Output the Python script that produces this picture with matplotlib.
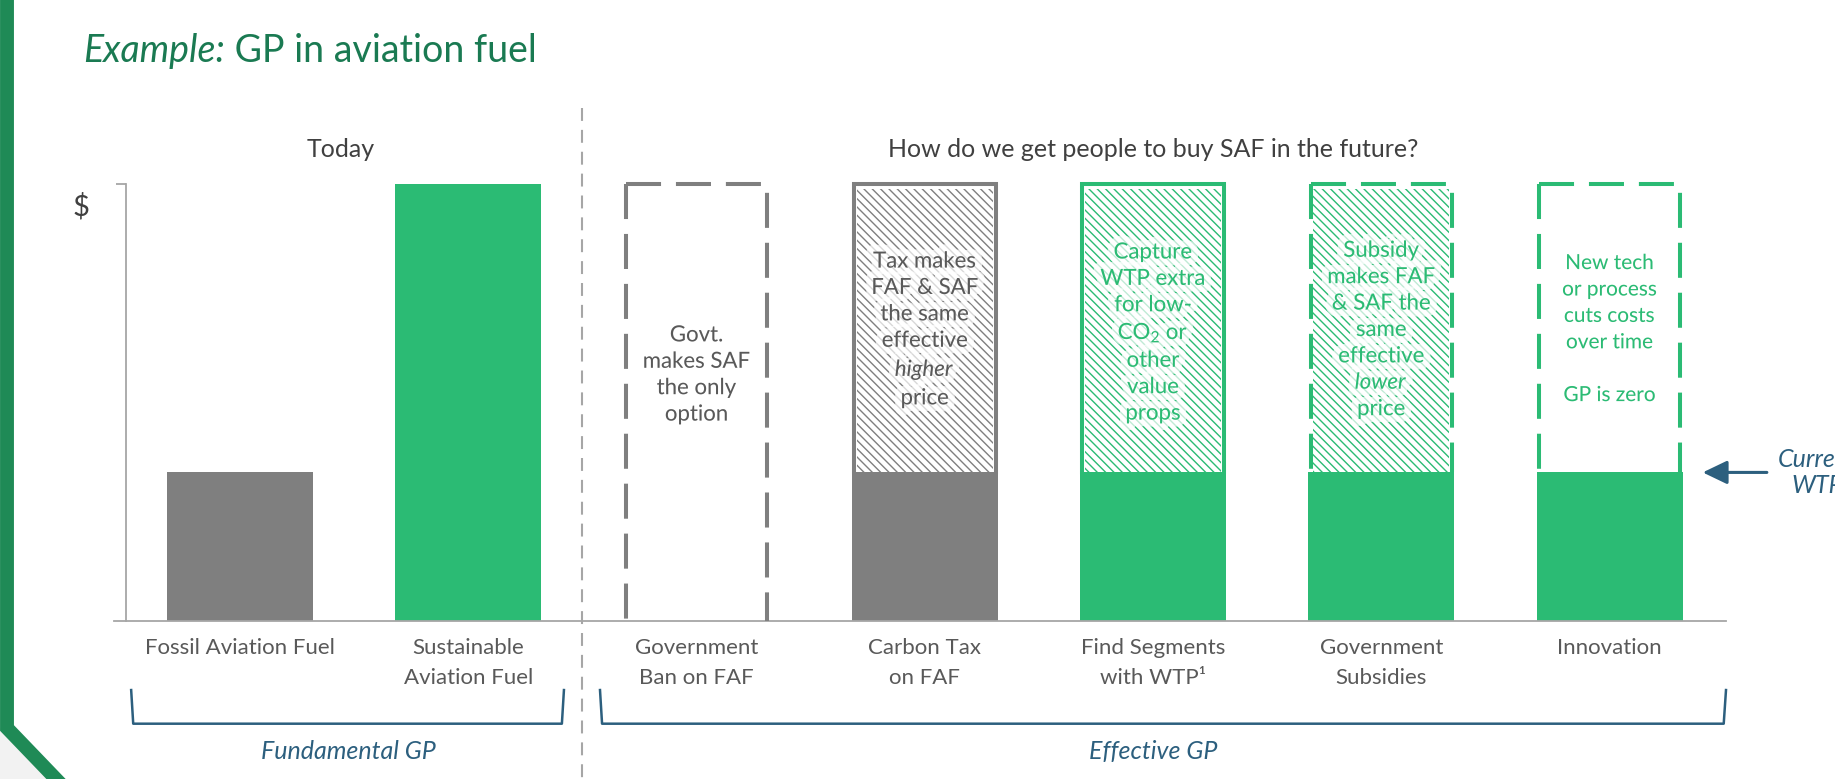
import numpy as np
import matplotlib
matplotlib.use('Agg')
import matplotlib.pyplot as plt
from matplotlib import patheffects as pe
from matplotlib.patches import Polygon
from matplotlib.lines import Line2D

plt.rcParams['font.family'] = ['Lato', 'DejaVu Sans']
plt.rcParams['mathtext.fontset'] = 'custom'
plt.rcParams['mathtext.rm'] = 'Lato'
plt.rcParams['mathtext.it'] = 'Lato:italic'
plt.rcParams['hatch.linewidth'] = 1.0

# data
categories = ['Fossil Aviation Fuel', 'Sustainable\nAviation Fuel', 'Government\nBan on FAF',
              'Carbon Tax\non FAF', 'Find Segments\nwith WTP\u00b9', 'Government\nSubsidies', 'Innovation']
current_wtp = 0.34
solid_height = [0.34, 1.0, 0.0, 0.34, 0.34, 0.34, 0.34]
frame_top = [0, 0, 1.0, 1.0, 1.0, 1.0, 1.0]
frame_style = ['', '', 'dash', 'solid', 'solid', 'dash', 'dash']
hatched = [False, False, False, True, True, True, False]
notes = ['', '',
         'Govt.\nmakes SAF\nthe only\noption',
         'Tax makes\nFAF & SAF\nthe same\neffective\n$\\mathit{higher}$\nprice',
         'Capture\nWTP extra\nfor low-\nCO$_2$ or\nother\nvalue\nprops',
         'Subsidy\nmakes FAF\n& SAF the\nsame\neffective\n$\\mathit{lower}$\nprice',
         'New tech\nor process\ncuts costs\nover time\n\nGP is zero']
note_y = [0, 0, 0.563, 0.666, 0.659, 0.666, 0.668]
groups = ['Fundamental GP', 'Effective GP']

GREY = '#7f7f7f'
GREEN = '#2bbb74'
BLUE = '#2c5f7e'
TXT = '#595959'
AXC = '#a6a6a6'
colors = [GREY, GREEN, 'white', GREY, GREEN, GREEN, GREEN]
line_col = [GREY, GREEN, GREY, GREY, GREEN, GREEN, GREEN]
note_col = [TXT, TXT, TXT, TXT, GREEN, GREEN, GREEN]

x = np.arange(len(categories))
w = 0.64

fig = plt.figure(figsize=(18.35, 7.79), dpi=100)
ax = fig.add_axes([114.5 / 1835, 1 - 621 / 779, 1611.5 / 1835, 437 / 779])
ax.set_xlim(-0.55, 6.51)
ax.set_ylim(0, 1)

# solid parts
ax.bar(x, solid_height, width=w, color=colors, linewidth=0, zorder=2)

# hatched upper parts
for i in range(len(x)):
    if hatched[i]:
        ax.bar(x[i], frame_top[i] - solid_height[i] - 0.012, bottom=solid_height[i], width=w * 0.93,
               facecolor='white', edgecolor=line_col[i], linewidth=0, hatch='\\\\\\\\', zorder=1)

# frames
for i in range(len(x)):
    if frame_style[i] == '':
        continue
    x0 = x[i] - w / 2 + 0.01
    x1 = x[i] + w / 2 - 0.01
    y0 = solid_height[i]
    y1 = frame_top[i]
    if frame_style[i] == 'dash':
        ls = (0, (8.7, 3.7))
        ax.plot([x0, x0], [y1, y0], color=line_col[i], lw=2.9, ls=ls, clip_on=False, zorder=3,
                dash_capstyle='butt')
        ax.plot([x0, x1, x1], [y1, y1, y0], color=line_col[i], lw=2.9, ls=ls, clip_on=False, zorder=3,
                dash_capstyle='butt')
    else:
        ax.plot([x0, x0, x1, x1], [y0, y1, y1, y0], color=line_col[i], lw=2.9, clip_on=False, zorder=3,
                solid_joinstyle='miter')

# notes inside the bars
for i in range(len(x)):
    if notes[i] == '':
        continue
    fs = 15 if i == 6 else 16
    ax.text(x[i], note_y[i], notes[i], ha='center', va='center', fontsize=fs, color=note_col[i],
            linespacing=1.4, zorder=4,
            path_effects=[pe.withStroke(linewidth=10, foreground='white', alpha=0.7)])

# axes styling
for s in ['top', 'right']:
    ax.spines[s].set_visible(False)
ax.spines['left'].set_position(('data', -0.5))
ax.spines['left'].set_bounds(0, 1)
ax.spines['left'].set_color(AXC)
ax.spines['left'].set_linewidth(1.3)
ax.spines['bottom'].set_color(AXC)
ax.spines['bottom'].set_linewidth(1.3)
ax.set_yticks([1])
ax.set_yticklabels([''])
ax.tick_params(axis='y', length=7, width=1.3, color=AXC)
ax.set_xticks(x)
ax.set_xticklabels(categories, fontsize=16, color=TXT, linespacing=1.65)
ax.tick_params(axis='x', length=0, pad=12)

ax.text(-0.696, 0.947, r'\$', ha='center', va='center', fontsize=21, color='#404040', clip_on=False)

# headers
ax.text(0.44, 1.078, 'Today', ha='center', va='center', fontsize=18, color='#404040', clip_on=False)
ax.text(4.0, 1.078, 'How do we get people to buy SAF in the future?', ha='center', va='center',
        fontsize=18, color='#404040', clip_on=False)

# separator
ax.plot([1.5, 1.5], [1.174, -0.37], color=AXC, lw=1.5, ls=(0, (6.2, 4.3)), clip_on=False)

# brackets
ax.plot([-0.477, -0.468, 1.41, 1.419], [-0.158, -0.235, -0.235, -0.158], color=BLUE, lw=1.8,
        clip_on=False, solid_joinstyle='round')
ax.plot([1.577, 1.586, 6.50, 6.51], [-0.158, -0.235, -0.235, -0.158], color=BLUE, lw=1.8,
        clip_on=False, solid_joinstyle='round')
ax.text(0.473, -0.298, groups[0], ha='center', va='center', fontsize=18, style='italic', color=BLUE,
        clip_on=False)
ax.text(4.0, -0.298, groups[1], ha='center', va='center', fontsize=18, style='italic', color=BLUE,
        clip_on=False)

# current WTP arrow
ax.annotate('', xy=(6.408, current_wtp), xytext=(6.689, current_wtp), annotation_clip=False,
            arrowprops=dict(arrowstyle='-|>,head_length=0.75,head_width=0.36', mutation_scale=20,
                            color=BLUE, lw=2.2, shrinkA=0, shrinkB=0))
ax.text(6.91, current_wtp, 'Current\nWTP', ha='center', va='center', fontsize=18, style='italic',
        color=BLUE, clip_on=False, linespacing=1.15)

# title
t1 = fig.text(83 / 1835, 1 - 62 / 779, 'Example:', fontsize=27, style='italic', color='#1a7a52',
              va='baseline', ha='left')
ax.annotate(' GP in aviation fuel', xy=(1, 0), xycoords=t1, va='bottom', ha='left', fontsize=27,
            color='#1a7a52', annotation_clip=False)

# slide frame
fig.add_artist(Polygon([(0, 0), (0, 1 - 728 / 779), (50 / 1835, 0)], closed=True,
                       transform=fig.transFigure, facecolor='#f2f2f2', edgecolor='none'))
fig.add_artist(Line2D([7 / 1835, 7 / 1835, 56 / 1835], [1, 1 - 728 / 779, 0],
                      transform=fig.transFigure, color='#1f8a56', lw=10, solid_joinstyle='miter'))

fig.savefig('out.png', dpi=100)
